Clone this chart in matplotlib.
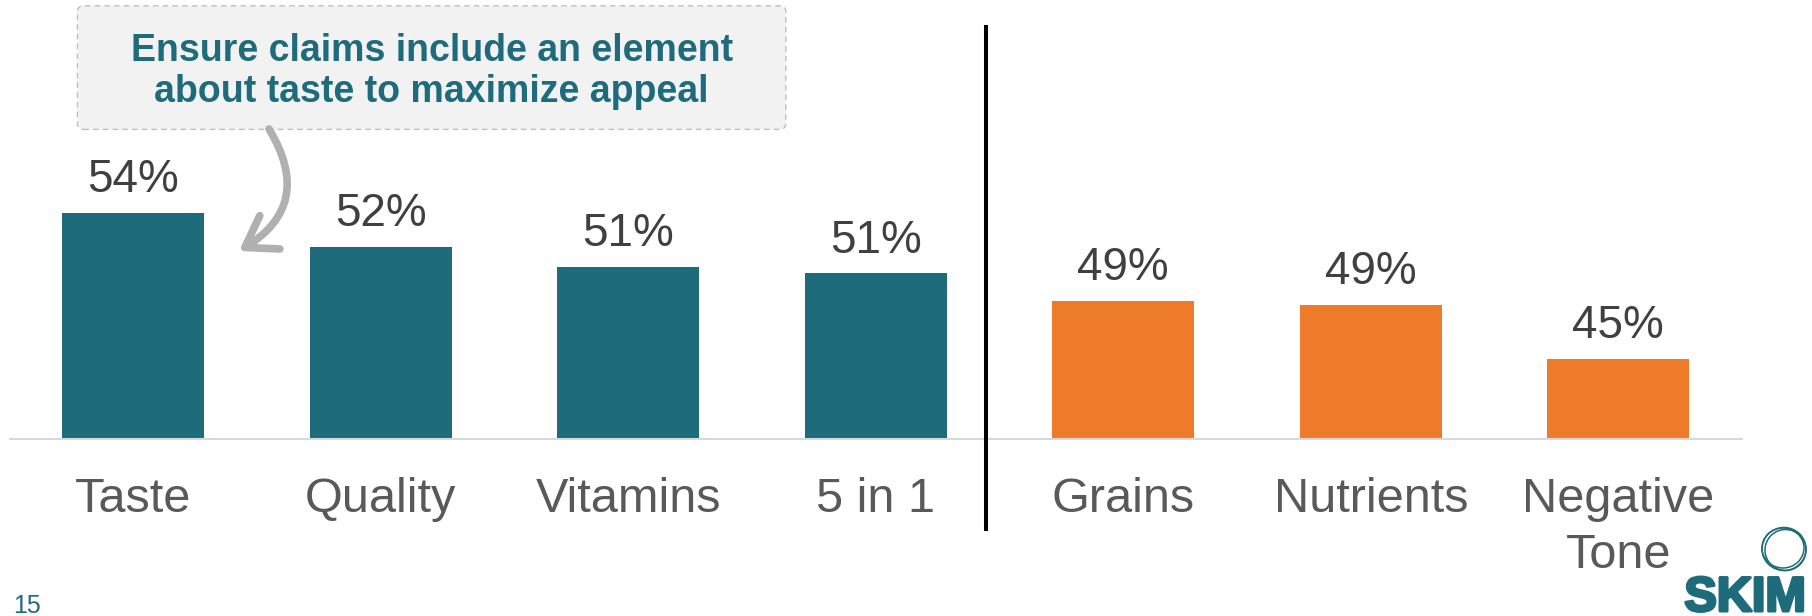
import matplotlib
matplotlib.use("Agg")
import matplotlib.pyplot as plt
import matplotlib.patheffects as pe
from matplotlib.patches import FancyBboxPatch, FancyArrowPatch, Ellipse
from matplotlib.lines import Line2D
from matplotlib.transforms import IdentityTransform

plt.rcParams['font.family'] = ['Liberation Sans', 'DejaVu Sans']

# ---- data ----
categories = ["Taste", "Quality", "Vitamins", "5 in 1", "Grains", "Nutrients", "Negative\nTone"]
values = [54.3, 52.2, 51.0, 50.6, 48.9, 48.7, 45.4]
taste_group = [True, True, True, True, False, False, False]
callout_lines = ["Ensure claims include an element", "about taste to maximize appeal"]
page_number = "15"
logo_text = "SKIM"

TEAL = "#1E6B7B"
ORANGE = "#EE7B29"

W, H = 1812, 616
fig = plt.figure(figsize=(W / 100, H / 100), dpi=100)


def fx(x):
    return x / W


def fy(y):
    return 1 - y / H


# ---- bars ----
ymin = 40.5
px_per_unit = 16.4
ax = fig.add_axes([fx(9.5), fy(439), (1742 - 9.5) / W, 439 / H])
ax.set_xlim(-0.5, 6.5)
ax.set_ylim(ymin, ymin + 439 / px_per_unit)
colors = [TEAL if g else ORANGE for g in taste_group]
xs = list(range(len(categories)))
ax.bar(xs, values, width=0.574, color=colors, zorder=2)

for s in ["top", "left", "right"]:
    ax.spines[s].set_visible(False)
ax.spines["bottom"].set_color("#D9D9D9")
ax.spines["bottom"].set_linewidth(1.5)
ax.set_yticks([])
ax.set_xticks(xs)
ax.set_xticklabels(categories, fontsize=35, color="#595959")
ax.tick_params(axis="x", length=0, pad=27)
for lab in ax.get_xticklabels():
    lab.set_linespacing(1.33)

for x, v in zip(xs, values):
    ax.annotate(f"{v:.0f}%", (x, v), xytext=(0, 15), textcoords="offset points",
                ha="center", va="baseline", fontsize=33, color="#404040")

# ---- separator ----
fig.add_artist(Line2D([fx(986), fx(986)], [fy(27), fy(529)], color="black", lw=2.9))

# ---- callout box ----
box = FancyBboxPatch((77.4, H - 129.4), 785.8 - 77.4, 129.4 - 5.8,
                     boxstyle="round,pad=0,rounding_size=6",
                     transform=IdentityTransform(), facecolor="#F2F2F2",
                     edgecolor="#BFBFBF", lw=1.0, linestyle=(0, (4, 3)))
fig.add_artist(box)
fig.text(fx(431.6), fy(61), callout_lines[0], ha="center", va="baseline",
         fontsize=27, fontweight="bold", color=TEAL)
fig.text(fx(431.6), fy(102), callout_lines[1], ha="center", va="baseline",
         fontsize=27, fontweight="bold", color=TEAL)

arrow = FancyArrowPatch(posA=(269, H - 129), posB=(239, H - 251),
                        transform=IdentityTransform(),
                        connectionstyle="arc3,rad=-0.5",
                        arrowstyle="->,head_length=21,head_width=14",
                        mutation_scale=1, lw=5.5, color="#B0B0B0",
                        shrinkA=0, shrinkB=0)
fig.add_artist(arrow)

# ---- footer ----
fig.text(fx(13), fy(613), page_number, ha="left", va="baseline", fontsize=18, color=TEAL)
fig.text(fx(1806), fy(611), logo_text, ha="right", va="baseline", fontsize=35,
         fontweight="bold", color=TEAL,
         path_effects=[pe.withStroke(linewidth=2.2, foreground=TEAL)])
for dx, dy, w, h in [(0, 0, 44, 43), (1.5, -1, 41, 41), (-1, 1, 42, 40)]:
    fig.add_artist(Ellipse((1784 + dx, H - 549 + dy), w, h, transform=IdentityTransform(),
                           fill=False, edgecolor=TEAL, lw=1.1))

fig.savefig("out.png", dpi=100)
